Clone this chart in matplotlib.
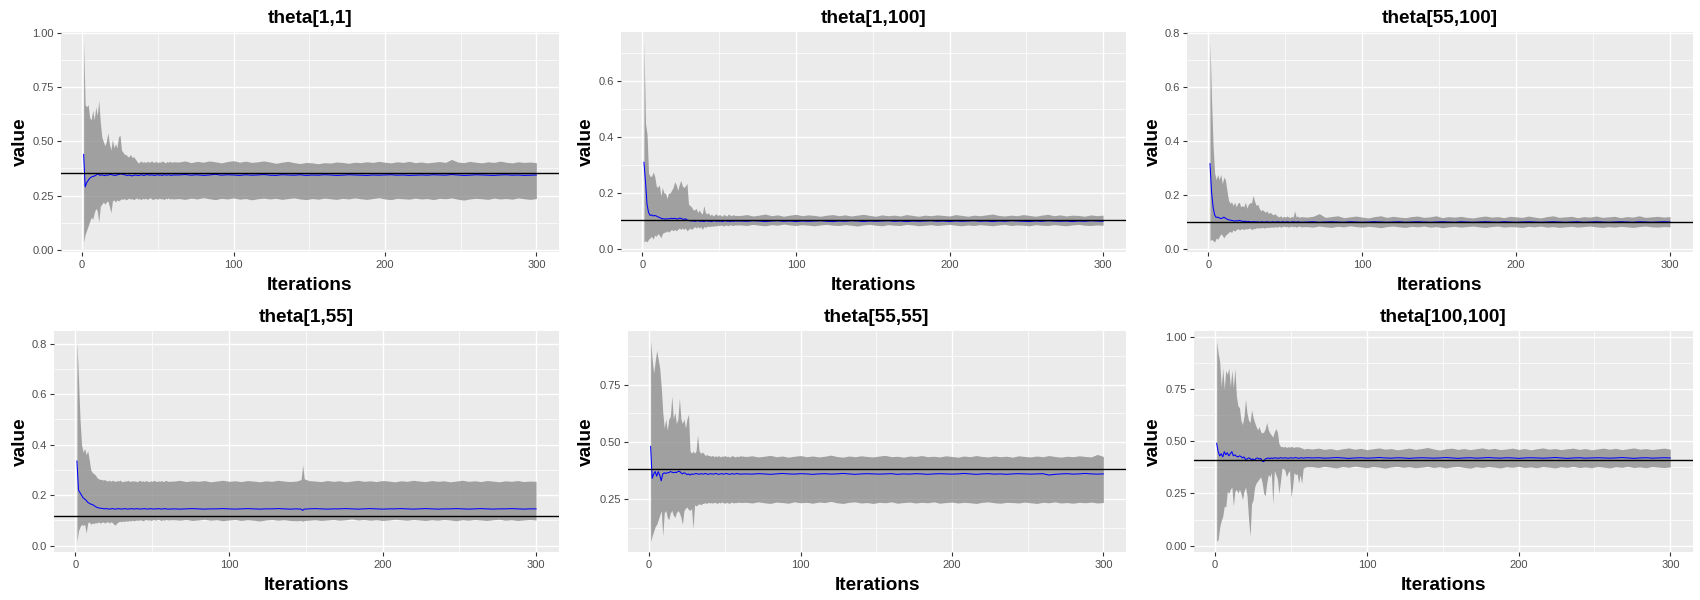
import matplotlib
matplotlib.use("Agg")
import matplotlib.pyplot as plt

plt.rcParams['font.family'] = ['Liberation Sans', 'DejaVu Sans']

# ---------------- data ----------------
ITER = list(range(1, 61)) + list(range(64, 301, 4))
# theta[1,55] has a one-iteration spike near 148, so it gets a few extra iterations
ITER_P4 = list(range(1, 61)) + list(range(64, 145, 4)) + [147, 148, 149] + list(range(152, 301, 4))

titles = ["theta[1,1]", "theta[1,100]", "theta[55,100]",
          "theta[1,55]", "theta[55,55]", "theta[100,100]"]
true_values = [0.355, 0.102, 0.098, 0.117, 0.382, 0.41]
x_ticks = [0, 100, 200, 300]
y_ticks = [[0, 0.25, 0.5, 0.75, 1.0], [0, 0.2, 0.4, 0.6], [0, 0.2, 0.4, 0.6, 0.8],
           [0, 0.2, 0.4, 0.6, 0.8], [0.25, 0.5, 0.75], [0, 0.25, 0.5, 0.75, 1.0]]
y_decimals = [2, 1, 1, 1, 2, 2]

# theta[1,1]
p1_upper = [0.96,0.67,0.66,0.67,0.61,0.60,0.645,0.60,0.66,0.62,
            0.69,0.59,0.52,0.50,0.48,0.50,0.54,0.49,0.46,0.51,
            0.47,0.49,0.47,0.52,0.53,0.46,0.45,0.44,0.44,0.43,
            0.43,0.44,0.425,0.43,0.42,0.41,0.40,0.405,0.41,0.403,
            0.407,0.402,0.409,0.404,0.406,0.41,0.403,0.405,0.408,0.402,
            0.406,0.404,0.41,0.405,0.401,0.407,0.404,0.409,0.403,0.406] + \
           [0.405,0.41,0.402,0.408,0.404,0.41,0.406,0.401,0.407,0.411,
            0.404,0.409,0.403,0.406,0.41,0.405,0.399,0.404,0.408,0.402,
            0.398,0.403,0.401,0.397,0.402,0.4,0.405,0.403,0.399,0.404,
            0.402,0.406,0.403,0.408,0.404,0.401,0.406,0.403,0.408,0.402,
            0.405,0.401,0.404,0.407,0.403,0.417,0.405,0.402,0.408,0.404,
            0.401,0.406,0.403,0.409,0.404,0.401,0.406,0.403,0.405,0.402]
p1_lower = [0.035,0.07,0.09,0.11,0.13,0.15,0.14,0.17,0.19,0.18,
            0.127,0.20,0.21,0.22,0.21,0.22,0.225,0.20,0.17,0.225,
            0.23,0.22,0.23,0.225,0.23,0.235,0.232,0.236,0.23,0.234,
            0.238,0.233,0.236,0.23,0.235,0.239,0.233,0.236,0.231,0.237,
            0.234,0.238,0.232,0.236,0.24,0.234,0.231,0.237,0.235,0.233,
            0.238,0.234,0.236,0.231,0.237,0.235,0.239,0.233,0.236,0.234] + \
           [0.236,0.232,0.238,0.234,0.24,0.235,0.231,0.237,0.234,0.239,
            0.233,0.236,0.23,0.235,0.238,0.234,0.237,0.232,0.236,0.239,
            0.234,0.231,0.236,0.233,0.238,0.235,0.232,0.237,0.234,0.239,
            0.235,0.232,0.236,0.24,0.234,0.231,0.237,0.235,0.233,0.238,
            0.234,0.236,0.231,0.237,0.235,0.239,0.233,0.229,0.234,0.237,
            0.235,0.232,0.238,0.234,0.236,0.233,0.239,0.235,0.232,0.236]
p1_mean = [0.44,0.29,0.31,0.32,0.33,0.335,0.338,0.34,0.343,0.35,
           0.347,0.343,0.346,0.344,0.342,0.345,0.344,0.346,0.348,0.345,
           0.344,0.343,0.345,0.347,0.349,0.35,0.348,0.346,0.344,0.343,
           0.345,0.342,0.341,0.343,0.345,0.344,0.342,0.344,0.346,0.344,
           0.343,0.345,0.347,0.345,0.344,0.346,0.344,0.343,0.345,0.346,
           0.344,0.345,0.343,0.346,0.345,0.344,0.346,0.345,0.343,0.345] + \
          [0.345,0.347,0.344,0.346,0.343,0.345,0.348,0.344,0.346,0.345,
           0.343,0.346,0.344,0.345,0.347,0.344,0.343,0.346,0.345,0.344,
           0.346,0.343,0.345,0.344,0.346,0.345,0.343,0.344,0.346,0.345,
           0.344,0.343,0.345,0.344,0.345,0.346,0.344,0.345,0.343,0.344,
           0.345,0.344,0.346,0.345,0.344,0.347,0.345,0.343,0.344,0.346,
           0.345,0.344,0.343,0.345,0.346,0.344,0.345,0.343,0.344,0.345]

# theta[1,100]
p2_upper = [0.74,0.45,0.41,0.27,0.26,0.26,0.275,0.26,0.225,0.22,
            0.23,0.19,0.22,0.2,0.2,0.18,0.2,0.2,0.21,0.22,
            0.24,0.23,0.21,0.23,0.245,0.225,0.22,0.225,0.235,0.16,
            0.155,0.15,0.14,0.14,0.145,0.13,0.14,0.13,0.125,0.155,
            0.13,0.125,0.13,0.12,0.125,0.118,0.122,0.126,0.119,0.123,
            0.121,0.117,0.124,0.12,0.118,0.125,0.121,0.119,0.123,0.12] + \
           [0.12,0.123,0.118,0.121,0.125,0.119,0.122,0.117,0.121,0.124,
            0.119,0.122,0.12,0.117,0.121,0.123,0.119,0.122,0.118,0.121,
            0.124,0.12,0.117,0.122,0.119,0.121,0.118,0.123,0.12,0.117,
            0.121,0.119,0.122,0.12,0.118,0.123,0.12,0.117,0.121,0.119,
            0.122,0.125,0.12,0.118,0.121,0.119,0.123,0.12,0.117,0.121,
            0.124,0.119,0.122,0.118,0.121,0.12,0.117,0.122,0.119,0.121]
p2_lower = [0.025,0.03,0.025,0.035,0.04,0.045,0.035,0.05,0.045,0.055,
            0.05,0.04,0.055,0.06,0.06,0.065,0.06,0.065,0.07,0.065,
            0.07,0.065,0.07,0.075,0.07,0.075,0.07,0.075,0.065,0.07,
            0.075,0.07,0.075,0.08,0.075,0.08,0.075,0.08,0.07,0.08,
            0.078,0.08,0.082,0.08,0.083,0.081,0.084,0.082,0.085,0.083,
            0.086,0.084,0.082,0.086,0.085,0.083,0.087,0.085,0.084,0.086] + \
           [0.086,0.084,0.088,0.085,0.083,0.087,0.085,0.089,0.086,0.084,
            0.087,0.085,0.083,0.086,0.088,0.085,0.084,0.087,0.085,0.082,
            0.086,0.088,0.085,0.083,0.087,0.085,0.084,0.088,0.086,0.083,
            0.085,0.087,0.084,0.086,0.088,0.085,0.083,0.086,0.084,0.087,
            0.085,0.083,0.086,0.088,0.084,0.086,0.085,0.083,0.087,0.085,
            0.084,0.087,0.085,0.083,0.086,0.088,0.085,0.084,0.086,0.085]
p2_mean = [0.31,0.24,0.16,0.13,0.12,0.122,0.118,0.12,0.118,0.115,
           0.113,0.11,0.108,0.108,0.107,0.108,0.108,0.108,0.11,0.108,
           0.11,0.108,0.107,0.11,0.11,0.107,0.106,0.108,0.104,0.102,
           0.101,0.1,0.101,0.099,0.1,0.101,0.1,0.099,0.1,0.098,
           0.1,0.101,0.099,0.1,0.098,0.1,0.101,0.099,0.1,0.099,
           0.1,0.098,0.1,0.101,0.099,0.1,0.098,0.1,0.099,0.1] + \
          [0.1,0.099,0.101,0.1,0.098,0.1,0.101,0.099,0.1,0.098,
           0.1,0.099,0.1,0.101,0.099,0.098,0.1,0.099,0.101,0.1,
           0.098,0.1,0.099,0.1,0.101,0.099,0.1,0.098,0.1,0.099,
           0.1,0.101,0.099,0.1,0.098,0.1,0.099,0.1,0.101,0.099,
           0.1,0.098,0.1,0.099,0.101,0.1,0.099,0.098,0.1,0.099,
           0.101,0.1,0.099,0.1,0.098,0.1,0.099,0.101,0.1,0.099]

# theta[55,100]
p3_upper = [0.765,0.55,0.38,0.28,0.256,0.275,0.256,0.275,0.24,0.265,
            0.255,0.216,0.18,0.168,0.174,0.16,0.172,0.155,0.168,0.172,
            0.155,0.16,0.155,0.172,0.15,0.165,0.17,0.17,0.198,0.175,
            0.16,0.165,0.15,0.14,0.145,0.14,0.135,0.14,0.13,0.135,
            0.13,0.125,0.13,0.125,0.12,0.118,0.122,0.116,0.12,0.117,
            0.121,0.118,0.115,0.12,0.117,0.14,0.118,0.121,0.116,0.119] + \
           [0.117,0.12,0.13,0.116,0.119,0.122,0.115,0.118,0.121,0.117,
            0.114,0.119,0.122,0.116,0.12,0.117,0.115,0.119,0.121,0.116,
            0.118,0.122,0.115,0.119,0.117,0.12,0.116,0.114,0.118,0.121,
            0.117,0.119,0.115,0.12,0.118,0.116,0.121,0.117,0.114,0.119,
            0.122,0.116,0.118,0.12,0.115,0.119,0.117,0.121,0.116,0.118,
            0.12,0.115,0.119,0.117,0.122,0.116,0.118,0.12,0.117,0.119]
p3_lower = [0.03,0.035,0.03,0.025,0.04,0.035,0.045,0.055,0.05,0.04,
            0.05,0.055,0.06,0.065,0.06,0.07,0.065,0.07,0.075,0.07,
            0.072,0.075,0.07,0.075,0.073,0.075,0.077,0.07,0.075,0.074,
            0.078,0.076,0.078,0.077,0.08,0.076,0.079,0.078,0.08,0.079,
            0.081,0.079,0.082,0.08,0.081,0.083,0.08,0.082,0.084,0.081,
            0.083,0.08,0.082,0.084,0.081,0.083,0.08,0.082,0.084,0.081] + \
           [0.082,0.08,0.084,0.081,0.079,0.083,0.081,0.085,0.082,0.08,
            0.083,0.081,0.078,0.082,0.084,0.081,0.079,0.083,0.081,0.084,
            0.08,0.082,0.078,0.081,0.083,0.08,0.082,0.084,0.081,0.079,
            0.082,0.084,0.08,0.082,0.081,0.079,0.083,0.081,0.084,0.08,
            0.082,0.079,0.081,0.083,0.08,0.082,0.084,0.081,0.079,0.082,
            0.08,0.083,0.081,0.079,0.082,0.084,0.081,0.08,0.082,0.081]
p3_mean = [0.315,0.21,0.155,0.125,0.116,0.117,0.114,0.112,0.113,0.117,
           0.113,0.11,0.107,0.106,0.105,0.104,0.102,0.104,0.103,0.105,
           0.103,0.102,0.101,0.102,0.1,0.101,0.1,0.099,0.1,0.1,
           0.099,0.1,0.098,0.099,0.1,0.098,0.099,0.1,0.099,0.098,
           0.099,0.1,0.098,0.099,0.1,0.099,0.098,0.1,0.099,0.098,
           0.1,0.099,0.098,0.099,0.1,0.099,0.098,0.1,0.099,0.098] + \
          [0.099,0.1,0.098,0.099,0.1,0.099,0.098,0.1,0.099,0.098,
           0.099,0.1,0.099,0.098,0.099,0.1,0.098,0.099,0.1,0.099,
           0.098,0.099,0.1,0.099,0.098,0.1,0.099,0.098,0.099,0.1,
           0.099,0.098,0.1,0.099,0.098,0.099,0.1,0.099,0.098,0.099,
           0.1,0.099,0.098,0.099,0.1,0.098,0.099,0.1,0.099,0.098,
           0.099,0.1,0.099,0.098,0.1,0.099,0.098,0.099,0.1,0.099]

# theta[1,55]  (uses ITER_P4)
p4_upper = [0.81,0.66,0.50,0.40,0.37,0.385,0.36,0.376,0.34,0.30,
            0.29,0.285,0.28,0.27,0.265,0.263,0.262,0.26,0.262,0.258,
            0.256,0.26,0.255,0.259,0.257,0.254,0.258,0.256,0.26,0.255,
            0.253,0.257,0.255,0.259,0.256,0.254,0.258,0.255,0.257,0.253,
            0.256,0.259,0.255,0.257,0.254,0.258,0.256,0.253,0.257,0.255,
            0.259,0.256,0.254,0.257,0.255,0.258,0.254,0.256,0.259,0.255] + \
           [0.256,0.259,0.254,0.257,0.255,0.258,0.253,0.256,0.259,0.255,
            0.257,0.254,0.258,0.256,0.253,0.257,0.255,0.259,0.256,0.254,
            0.256, 0.262,0.32,0.265,
            0.258,0.256,0.254,0.258,0.255,0.257,0.253,0.256,
            0.259,0.255,0.257,0.254,0.258,0.256,0.253,0.257,0.255,0.259,
            0.256,0.254,0.258,0.255,0.257,0.253,0.256,0.259,0.255,0.257,
            0.254,0.258,0.256,0.253,0.257,0.255,0.258,0.254,0.256,0.255]
p4_lower = [0.017,0.06,0.075,0.085,0.08,0.085,0.05,0.09,0.095,0.085,
            0.09,0.088,0.092,0.09,0.095,0.09,0.092,0.095,0.09,0.093,
            0.096,0.09,0.095,0.092,0.085,0.082,0.09,0.095,0.097,0.095,
            0.098,0.096,0.099,0.097,0.1,0.098,0.101,0.099,0.1,0.102,
            0.1,0.103,0.101,0.099,0.102,0.104,0.101,0.103,0.1,0.102,
            0.104,0.101,0.103,0.105,0.102,0.1,0.103,0.101,0.104,0.102] + \
           [0.103,0.101,0.104,0.1,0.102,0.105,0.101,0.103,0.099,0.102,
            0.104,0.1,0.103,0.101,0.098,0.102,0.104,0.101,0.103,0.1,
            0.099, 0.1,0.097,0.1,
            0.101,0.103,0.1,0.102,0.104,0.101,0.103,0.106,
            0.102,0.104,0.101,0.103,0.1,0.102,0.105,0.103,0.101,0.104,
            0.102,0.1,0.103,0.101,0.104,0.102,0.099,0.103,0.101,0.104,
            0.102,0.1,0.103,0.105,0.101,0.103,0.1,0.102,0.104,0.102]
p4_mean = [0.335,0.22,0.21,0.2,0.19,0.185,0.18,0.172,0.168,0.165,
           0.163,0.16,0.155,0.152,0.15,0.149,0.148,0.147,0.146,0.147,
           0.146,0.145,0.146,0.147,0.146,0.145,0.146,0.147,0.146,0.145,
           0.146,0.147,0.146,0.145,0.146,0.146,0.147,0.145,0.146,0.147,
           0.146,0.145,0.146,0.146,0.147,0.146,0.145,0.146,0.147,0.146,
           0.145,0.146,0.146,0.147,0.146,0.145,0.146,0.147,0.146,0.145] + \
          [0.146,0.145,0.146,0.147,0.146,0.145,0.146,0.146,0.147,0.146,
           0.145,0.146,0.147,0.146,0.145,0.146,0.146,0.147,0.146,0.145,
           0.146, 0.145,0.14,0.145,
           0.146,0.147,0.146,0.145,0.146,0.146,0.147,0.146,
           0.145,0.146,0.147,0.146,0.145,0.146,0.146,0.147,0.146,0.145,
           0.146,0.147,0.146,0.145,0.146,0.146,0.147,0.146,0.145,0.146,
           0.147,0.146,0.145,0.146,0.146,0.147,0.146,0.145,0.146,0.146]

# theta[55,55]
p5_upper = [0.94,0.86,0.80,0.85,0.90,0.86,0.82,0.74,0.63,0.56,
            0.60,0.55,0.60,0.61,0.70,0.60,0.63,0.58,0.60,0.69,
            0.60,0.58,0.60,0.56,0.60,0.62,0.46,0.45,0.46,0.45,
            0.46,0.53,0.46,0.45,0.455,0.45,0.44,0.445,0.44,0.44,
            0.437,0.441,0.435,0.439,0.436,0.44,0.434,0.438,0.436,0.441,
            0.435,0.438,0.433,0.437,0.44,0.436,0.434,0.438,0.435,0.439] + \
           [0.436,0.439,0.434,0.437,0.441,0.435,0.438,0.433,0.437,0.44,
            0.435,0.438,0.434,0.437,0.442,0.436,0.433,0.438,0.435,0.439,
            0.436,0.434,0.438,0.441,0.435,0.437,0.433,0.438,0.436,0.44,
            0.435,0.437,0.434,0.439,0.436,0.433,0.438,0.435,0.44,0.436,
            0.434,0.438,0.435,0.437,0.433,0.439,0.436,0.434,0.438,0.435,
            0.44,0.436,0.433,0.437,0.435,0.439,0.436,0.434,0.445,0.436]
p5_lower = [0.065,0.09,0.11,0.13,0.14,0.16,0.18,0.2,0.09,0.19,
            0.2,0.17,0.16,0.19,0.2,0.18,0.17,0.19,0.2,0.19,
            0.17,0.14,0.2,0.21,0.215,0.205,0.2,0.21,0.12,0.225,
            0.22,0.225,0.23,0.225,0.23,0.232,0.234,0.231,0.236,0.233,
            0.235,0.232,0.237,0.234,0.231,0.236,0.233,0.238,0.234,0.232,
            0.236,0.234,0.231,0.237,0.235,0.233,0.236,0.234,0.238,0.235] + \
           [0.236,0.233,0.238,0.234,0.231,0.237,0.235,0.232,0.238,0.234,
            0.236,0.232,0.237,0.235,0.24,0.234,0.231,0.236,0.238,0.233,
            0.235,0.231,0.236,0.234,0.238,0.232,0.235,0.237,0.233,0.236,
            0.234,0.238,0.232,0.235,0.237,0.233,0.236,0.234,0.231,0.236,
            0.238,0.234,0.232,0.236,0.235,0.233,0.237,0.234,0.231,0.236,
            0.234,0.238,0.233,0.235,0.232,0.236,0.234,0.237,0.233,0.235]
p5_mean = [0.48,0.34,0.36,0.37,0.35,0.37,0.355,0.33,0.36,0.365,
           0.362,0.365,0.365,0.37,0.368,0.365,0.367,0.366,0.37,0.372,
           0.365,0.36,0.365,0.362,0.357,0.36,0.355,0.36,0.358,0.36,
           0.362,0.36,0.358,0.361,0.36,0.359,0.362,0.36,0.358,0.36,
           0.361,0.359,0.36,0.362,0.36,0.358,0.36,0.361,0.359,0.36,
           0.362,0.36,0.358,0.36,0.361,0.359,0.36,0.362,0.36,0.359] + \
          [0.36,0.359,0.361,0.36,0.358,0.36,0.362,0.36,0.359,0.361,
           0.36,0.358,0.36,0.361,0.359,0.36,0.362,0.36,0.358,0.36,
           0.361,0.36,0.359,0.36,0.361,0.358,0.36,0.359,0.361,0.36,
           0.358,0.36,0.361,0.36,0.359,0.36,0.362,0.36,0.358,0.36,
           0.361,0.359,0.36,0.358,0.36,0.361,0.36,0.359,0.36,0.361,
           0.355,0.358,0.36,0.361,0.359,0.36,0.362,0.36,0.359,0.36]

# theta[100,100]
p6_upper = [0.98,0.92,0.88,0.76,0.85,0.75,0.84,0.82,0.85,0.76,
            0.84,0.755,0.85,0.715,0.67,0.66,0.6,0.58,0.62,0.70,
            0.635,0.6,0.59,0.65,0.615,0.59,0.57,0.555,0.57,0.545,
            0.54,0.545,0.56,0.59,0.555,0.54,0.53,0.52,0.545,0.56,
            0.545,0.49,0.475,0.475,0.472,0.476,0.47,0.474,0.471,0.476,
            0.473,0.47,0.475,0.472,0.474,0.47,0.468,0.465,0.462,0.466] + \
           [0.463,0.467,0.461,0.465,0.459,0.464,0.468,0.462,0.466,0.46,
            0.464,0.468,0.462,0.465,0.459,0.463,0.467,0.461,0.465,0.47,
            0.463,0.458,0.464,0.467,0.461,0.465,0.46,0.464,0.468,0.462,
            0.466,0.46,0.463,0.467,0.461,0.465,0.459,0.464,0.468,0.462,
            0.465,0.46,0.464,0.467,0.461,0.465,0.459,0.463,0.467,0.462,
            0.466,0.46,0.464,0.468,0.462,0.465,0.46,0.464,0.467,0.462]
p6_lower = [0.02,0.03,0.09,0.12,0.14,0.19,0.185,0.26,0.25,0.27,
            0.28,0.19,0.26,0.27,0.25,0.27,0.25,0.22,0.26,0.28,
            0.24,0.13,0.045,0.2,0.22,0.28,0.3,0.31,0.32,0.33,
            0.3,0.25,0.24,0.3,0.34,0.33,0.35,0.2,0.36,0.34,
            0.32,0.25,0.305,0.37,0.37,0.36,0.33,0.35,0.36,0.233,
            0.28,0.35,0.34,0.345,0.3,0.34,0.297,0.37,0.375,0.378] + \
           [0.378,0.374,0.38,0.376,0.372,0.379,0.375,0.381,0.377,0.373,
            0.379,0.376,0.371,0.377,0.38,0.375,0.378,0.373,0.376,0.38,
            0.374,0.378,0.372,0.377,0.38,0.375,0.371,0.378,0.374,0.379,
            0.376,0.372,0.378,0.375,0.38,0.374,0.377,0.373,0.379,0.376,
            0.372,0.378,0.375,0.38,0.374,0.377,0.373,0.379,0.376,0.372,
            0.378,0.375,0.38,0.374,0.377,0.373,0.379,0.376,0.374,0.377]
p6_mean = [0.49,0.45,0.43,0.44,0.425,0.45,0.435,0.445,0.43,0.44,
           0.45,0.43,0.435,0.428,0.425,0.43,0.427,0.42,0.425,0.413,
           0.415,0.42,0.418,0.412,0.415,0.41,0.418,0.42,0.415,0.418,
           0.405,0.402,0.415,0.418,0.42,0.417,0.42,0.418,0.421,0.419,
           0.42,0.418,0.421,0.42,0.419,0.421,0.42,0.418,0.42,0.421,
           0.419,0.42,0.422,0.42,0.418,0.42,0.421,0.419,0.42,0.421] + \
          [0.42,0.421,0.419,0.42,0.422,0.42,0.418,0.42,0.421,0.419,
           0.42,0.422,0.42,0.419,0.421,0.42,0.418,0.42,0.421,0.42,
           0.419,0.42,0.422,0.42,0.418,0.42,0.421,0.419,0.42,0.422,
           0.42,0.419,0.421,0.42,0.418,0.42,0.421,0.42,0.419,0.42,
           0.422,0.42,0.418,0.42,0.421,0.419,0.42,0.421,0.42,0.419,
           0.42,0.422,0.42,0.418,0.42,0.421,0.419,0.42,0.421,0.42]

iters = [ITER, ITER, ITER, ITER_P4, ITER, ITER]
lowers = [p1_lower, p2_lower, p3_lower, p4_lower, p5_lower, p6_lower]
uppers = [p1_upper, p2_upper, p3_upper, p4_upper, p5_upper, p6_upper]
means = [p1_mean, p2_mean, p3_mean, p4_mean, p5_mean, p6_mean]

# ---------------- layout (pixels) ----------------
W, H = 1700, 600
rects = [(61, 32, 559, 252), (621, 32, 1126, 252), (1187, 32, 1693, 252),
         (54, 331, 559, 551.5), (628, 331, 1126, 551.5), (1194, 331, 1693, 551.5)]
col_starts = [0, 566.7, 1133.3, 0, 566.7, 1133.3]

PANEL_BG = '#EBEBEB'
RIBBON = '#808080'
TXT_SIZE = 13.7

fig = plt.figure(figsize=(W / 100, H / 100), dpi=100)
fig.patch.set_facecolor('white')

for i in range(6):
    l, t, r, b = rects[i]
    ax = fig.add_axes([l / W, (H - b) / H, (r - l) / W, (b - t) / H])
    ax.set_facecolor(PANEL_BG)
    for s in ax.spines.values():
        s.set_visible(False)

    it, lo, up, mn = iters[i], lowers[i], uppers[i], means[i]
    ax.fill_between(it, lo, up, color=RIBBON, alpha=0.7, linewidth=0, zorder=2)
    ax.plot(it, mn, color='#0000FF', lw=0.75, zorder=3)
    ax.axhline(true_values[i], color='black', lw=1.0, zorder=4)

    # ggplot-like expansion
    xr = it[-1] - it[0]
    ax.set_xlim(it[0] - 0.05 * xr, it[-1] + 0.05 * xr)
    ymin, ymax = min(lo), max(up)
    yr = ymax - ymin
    y0, y1 = ymin - 0.05 * yr, ymax + 0.05 * yr
    ax.set_ylim(y0, y1)

    ax.set_xticks(x_ticks)
    ax.set_xticklabels([str(v) for v in x_ticks])
    ax.set_xticks([50, 150, 250], minor=True)
    yt = y_ticks[i]
    ax.set_yticks(yt)
    ax.set_yticklabels([f"{v:.{y_decimals[i]}f}" for v in yt])
    step = yt[1] - yt[0]
    minors = [yt[0] - step / 2 + k * step for k in range(len(yt) + 1)]
    ax.set_yticks([m for m in minors if y0 < m < y1], minor=True)

    ax.set_axisbelow(True)
    ax.grid(which='major', color='white', lw=1.0)
    ax.grid(which='minor', color='white', lw=0.5)
    ax.tick_params(which='major', length=2.7, width=0.8, color='#333333',
                   labelsize=8, labelcolor='#4D4D4D', pad=2.4)
    ax.tick_params(axis='x', which='major', pad=3.3)
    ax.tick_params(which='minor', length=0)

    cx = (l + r) / 2
    fig.text(cx / W, (H - (t - 9)) / H, titles[i], ha='center', va='baseline',
             fontsize=TXT_SIZE, fontweight='bold', color='black')
    fig.text(cx / W, (H - (b + 38)) / H, 'Iterations', ha='center', va='baseline',
             fontsize=TXT_SIZE, fontweight='bold', color='black')
    fig.text((col_starts[i] + 20) / W, (H - (t + b) / 2) / H, 'value', ha='center',
             va='center', rotation=90, fontsize=TXT_SIZE, fontweight='bold', color='black')

fig.savefig('out.png', dpi=100, facecolor='white')
